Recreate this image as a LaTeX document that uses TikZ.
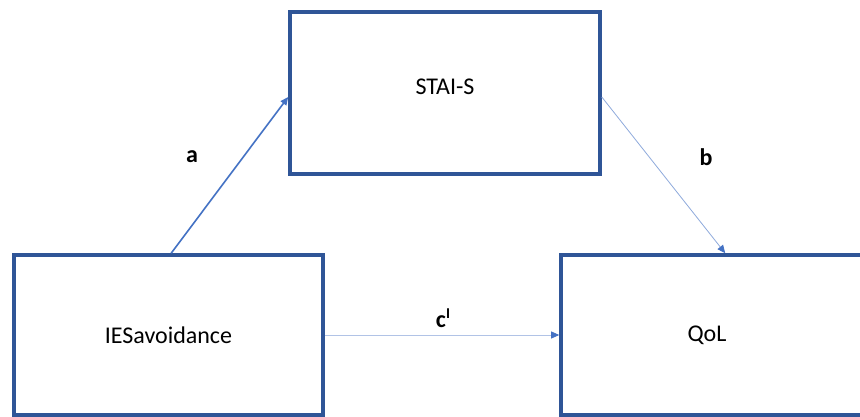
\documentclass[tikz,border=0pt]{standalone}
\usepackage{fontspec}
\setmainfont{Carlito}
\usetikzlibrary{arrows.meta,calc}
\definecolor{boxblue}{HTML}{2F5597}
\definecolor{arrblue}{HTML}{4472C4}
\definecolor{lightarr}{HTML}{8FAADC}
\begin{document}
\begin{tikzpicture}[x=1pt,y=-1pt,
  box/.style={draw=boxblue,line width=3.6pt,minimum width=#1,inner sep=0pt,font=\fontsize{24}{28}\selectfont},
  box/.default=310pt,
  lab/.style={font=\bfseries\fontsize{24}{28}\selectfont},
  conn/.style={-{Triangle[length=8pt,width=7pt,color=arrblue]},color=arrblue},
]
\useasboundingbox (0,0) rectangle (860,417);
\fill[white] (0,0) rectangle (860,417);
\node[box=310pt,minimum height=162pt] (stai) at (445,93) {};
\node[box=309pt,minimum height=160pt] (ies) at (168.5,335) {IESavoidance};
\node[box=306pt,minimum height=160pt] (qol) at (714,335) {};
\node[font=\fontsize{24}{28}\selectfont] (stait) at (445,87) {STAI-S};
\node[font=\fontsize{24}{28}\selectfont] (qolt) at (707,335) {QoL};
\coordinate (astart) at ($(ies.north west)+(159,0)$);
\coordinate (aend) at ($(stai.west)+(0,4)$);
\coordinate (bstart) at ($(stai.east)+(0,4)$);
\coordinate (bend) at ($(qol.north west)+(166,0)$);
\draw[conn,line width=1.6pt] (astart) -- (aend);
\draw[conn,line width=0.8pt,draw=lightarr] (bstart) -- (bend);
\draw[conn,line width=0.8pt,draw=lightarr!70] (ies.east) -- (qol.west);
\node[lab] (la) at (192,157) {a};
\node[lab] (lb) at (706,157) {b};
\node[lab] (lc) at (443,318) {c\raisebox{0.75ex}{\fontsize{15}{15}\selectfont I}};
\end{tikzpicture}
\end{document}
